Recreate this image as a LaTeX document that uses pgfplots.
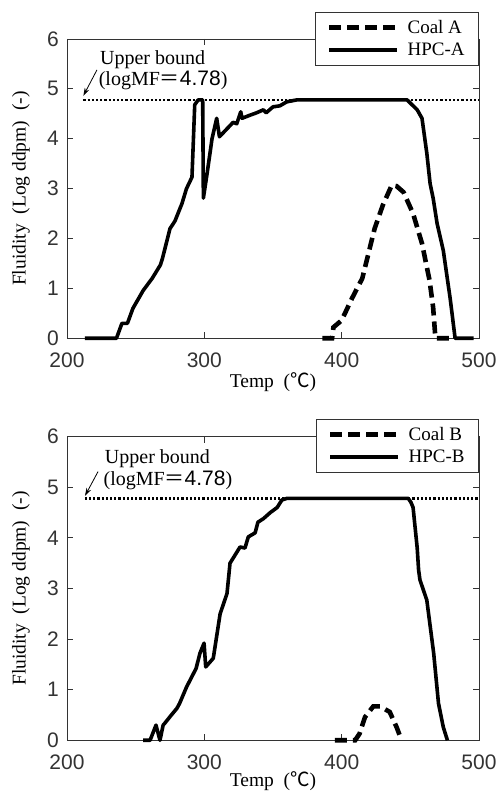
\documentclass[border=0pt]{standalone}
\usepackage{fontspec}
\setmainfont{Liberation Serif}
\newfontfamily\tickfont{Liberation Sans}
\newfontfamily\cjk{Noto Sans CJK JP}
\usepackage{pgfplots}
\pgfplotsset{compat=1.18}
\usetikzlibrary{arrows.meta}
\tikzset{
  coal/.style={black, line width=4.6pt, dash pattern=on 12pt off 6pt},
  hpc/.style={black, line width=3.6pt, line join=round},
  ub/.style={black, line width=2.4pt, dash pattern=on 2.2pt off 2pt},
  ann/.style={anchor=west, font=\fontsize{20}{20}\selectfont, inner sep=0pt},
}
\pgfplotsset{
  myaxis/.style={
    scale only axis, width=412pt,
    xmin=200, xmax=500, ymin=0, ymax=6,
    xtick={200,300,400,500}, ytick={0,1,2,3,4,5,6},
    tick align=inside, major tick length=6pt,
    axis line style={line width=0.8pt, black!80},
    every tick/.style={line width=0.8pt, black!80},
    /pgf/number format/assume math mode=true,
    tick label style={font=\fontsize{21}{21}\selectfont\tickfont, text=black!80, inner sep=1pt},
    xticklabel style={yshift=-13pt},
    yticklabel style={xshift=-7pt},
    ylabel={Fluidity\ \ (Log ddpm)\ \ (-)},
    xlabel={Temp\ \ ({\cjk ℃})},
    every axis y label/.style={at={(axis description cs:-0.112,0.5)}, anchor=center, rotate=90, font=\fontsize{19.5}{19.5}\selectfont},
    clip=false,
    legend cell align=left,
    legend image code/.code={\draw[##1] (0pt,0pt) -- (68pt,0pt);},
    legend style={draw=black!80, line width=0.8pt, fill=white,
      font=\fontsize{19}{19}\selectfont, inner xsep=12pt, inner ysep=6pt,
      row sep=4pt, nodes={inner sep=2pt},
      /tikz/every odd column/.append style={column sep=6pt}},
  },
}
\newcommand{\nf}{{\cjk ＝}{\tickfont\fontsize{21}{21}\selectfont 4.78}}
\begin{document}
\begin{tikzpicture}[x=1pt,y=1pt]
\useasboundingbox (0,0) rectangle (498,791);
% ---------- Top panel ----------
\begin{axis}[myaxis, at={(67pt,452.7pt)}, anchor=south west, height=299.3pt,
  every axis x label/.style={at={(axis description cs:0.5,-0.146)}, anchor=center, font=\fontsize{19.5}{19.5}\selectfont},
  legend style={at={(rel axis cs:1,1.09)}, anchor=north east}]
\addplot[coal] coordinates {(386,0) (393,0) (394,0.22) (400,0.36) (407.5,0.8) (415,1.2) (419.5,1.7) (424,2.2) (430,2.67) (436.5,3.07) (440,3.05) (445,2.93) (452,2.5) (458.5,1.9) (464,1.16) (466.6,0.62) (468,0.1) (468.5,0) (479,0)};
\addlegendentry{Coal A}
\addplot[hpc] coordinates {(213,0) (236,0) (240,0.3) (244,0.3) (248,0.6) (255.5,0.96) (262,1.2) (268,1.47) (269.5,1.6) (275,2.2) (278.6,2.35) (283.7,2.7) (287,3.0) (291,3.23) (293,4.68) (295.5,4.78) (298.8,4.78) (299.3,2.81) (302,3.3) (305.6,4.0) (309,4.41) (311,4.04) (316.5,4.2) (321,4.33) (323.6,4.3) (326.5,4.54) (327.5,4.41) (333,4.47) (338,4.52) (343,4.58) (345,4.52) (350,4.64) (355,4.66) (360,4.74) (367.5,4.78) (447.6,4.78) (455,4.58) (458.5,4.41) (462,3.71) (464.4,3.1) (466.6,2.81) (469.5,2.3) (474,1.76) (479,0.8) (482.6,0) (496,0)};
\addlegendentry{HPC-A}
\addplot[ub, forget plot] coordinates {(212,4.78) (500,4.78)};
\draw[-{Stealth[length=8pt,width=5pt]}, line width=0.8pt] (axis cs:221.8,5.38) -- (axis cs:211.9,4.86);
\node[ann] at (axis cs:224,5.58) {Upper bound};
\node[ann] at (axis cs:223,5.18) {(logMF\nf)};
\end{axis}
% ---------- Bottom panel ----------
\begin{axis}[myaxis, at={(67pt,50.7pt)}, anchor=south west, height=303.6pt,
  every axis x label/.style={at={(axis description cs:0.5,-0.136)}, anchor=center, font=\fontsize{19.5}{19.5}\selectfont},
  legend style={at={(rel axis cs:1,1.059)}, anchor=north east}]
\addplot[coal] coordinates {(395,0) (402,0) (409.8,0) (413,0.13) (417,0.46) (423,0.67) (428,0.67) (435,0.56) (440,0.26) (443.6,0)};
\addlegendentry{Coal B}
\addplot[hpc] coordinates {(255.5,0) (260.5,0) (264.8,0.3) (267.7,0) (270,0.3) (271,0.33) (276,0.5) (280,0.63) (282,0.73) (287,1.05) (294,1.42) (296.8,1.72) (299.8,1.92) (301,1.45) (306.5,1.62) (311.5,2.5) (316.5,2.9) (318.7,3.5) (326,3.82) (329.6,3.8) (332,4.02) (337,4.1) (339,4.31) (343,4.38) (348,4.5) (353,4.6) (356.5,4.75) (360,4.78) (448.5,4.78) (450.5,4.7) (452,4.6) (455,3.8) (456,3.37) (457,3.17) (462,2.77) (467,1.72) (470.5,0.73) (474,0.26) (477,0)};
\addlegendentry{HPC-B}
\addplot[ub, forget plot] coordinates {(213,4.78) (500,4.78)};
\draw[-{Stealth[length=8pt,width=5pt]}, line width=0.8pt] (axis cs:222.6,5.31) -- (axis cs:213.1,4.83);
\node[ann] at (axis cs:227.5,5.56) {Upper bound};
\node[ann] at (axis cs:226.5,5.13) {(logMF\nf)};
\end{axis}
\end{tikzpicture}
\end{document}
